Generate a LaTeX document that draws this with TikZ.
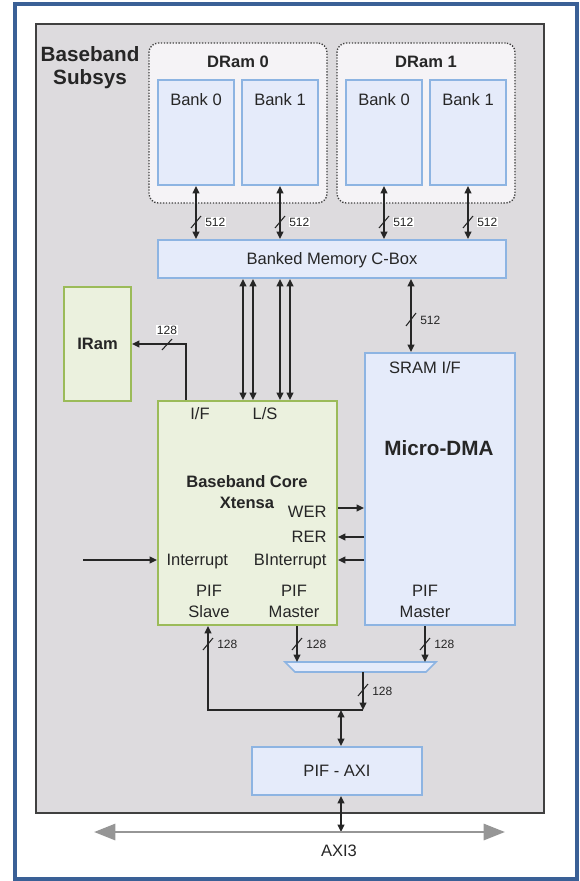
\documentclass[tikz,border=0pt]{standalone}
\usepackage{fontspec}
\setmainfont{Liberation Sans}
\usetikzlibrary{arrows.meta}

\definecolor{frameblue}{RGB}{58,96,150}
\definecolor{subsysgrey}{RGB}{221,219,222}
\definecolor{subsysline}{RGB}{64,64,64}
\definecolor{dramfill}{RGB}{245,243,246}
\definecolor{blueline}{RGB}{141,180,226}
\definecolor{bluefill}{RGB}{229,235,250}
\definecolor{greenline}{RGB}{155,187,89}
\definecolor{greenfill}{RGB}{235,241,222}
\definecolor{ink}{RGB}{38,38,38}
\definecolor{axigrey}{RGB}{150,150,150}

\tikzset{every picture/.style={line width=0.75pt}}

\begin{document}
\begin{tikzpicture}[x=0.75pt,y=0.75pt,yscale=-1,xscale=1,
  >={Triangle[length=5.5pt,width=5pt]},
  txt/.style={font=\fontsize{12.4}{15.75}\selectfont,text=ink,inner sep=0pt,anchor=base,align=center},
  boldtxt/.style={txt,font=\fontsize{12.4}{15.75}\selectfont\bfseries},
  bigtxt/.style={txt,font=\fontsize{15.5}{16.9}\selectfont\bfseries},
  boxtxt/.style={font=\fontsize{12.4}{15}\selectfont,text=ink,text height=8.9pt,text depth=0pt},
  buslbl/.style={font=\fontsize{9}{10}\selectfont,text=ink,inner sep=0.6pt,anchor=base west},
  whitelbl/.style={buslbl,fill=white},
  bluebox/.style={draw=blueline,fill=bluefill,line width=1.5pt,inner sep=0pt},
  greenbox/.style={draw=greenline,fill=greenfill,line width=1.5pt,inner sep=0pt},
  drambox/.style={draw=subsysline,fill=dramfill,line width=1pt,dash pattern=on 1pt off 1.2pt,rounded corners=7pt,inner sep=0pt},
  wire/.style={draw=ink,line width=1.2pt},
  widthmark/.style={draw=ink,line width=0.8pt},
  axibus/.style={draw=axigrey,line width=2.2pt,{Triangle[length=16pt,width=12pt]}-{Triangle[length=16pt,width=12pt]}}
]
\path[use as bounding box] (0,0) rectangle (580,881);

%Frame and subsystem
\draw[frameblue,line width=3pt] (15,4.5) rectangle (577,879);
\draw[draw=subsysline,fill=subsysgrey,line width=1.5pt] (36,24) rectangle (544,813);
\node[bigtxt] (subsyslbl) at (90,84.5) {Baseband\\Subsys};

%DRam groups
\node[drambox,minimum width=133.5pt,minimum height=120pt] (dram0) at (238,123) {};
\node[drambox,minimum width=133.5pt,minimum height=120pt] (dram1) at (426,123) {};
\node[boldtxt] (dram0lbl) at (238,68) {DRam 0};
\node[boldtxt] (dram1lbl) at (426,68) {DRam 1};

%Banks
\node[bluebox,minimum width=57pt,minimum height=78.75pt] (bank00) at (196,132.5) {};
\node[bluebox,minimum width=57pt,minimum height=78.75pt] (bank01) at (280,132.5) {};
\node[bluebox,minimum width=57pt,minimum height=78.75pt] (bank10) at (384,132.5) {};
\node[bluebox,minimum width=57pt,minimum height=78.75pt] (bank11) at (468,132.5) {};
\node[txt] (bank00lbl) at (196,105) {Bank 0};
\node[txt] (bank01lbl) at (280,105) {Bank 1};
\node[txt] (bank10lbl) at (384,105) {Bank 0};
\node[txt] (bank11lbl) at (468,105) {Bank 1};

%Blocks
\node[bluebox,boxtxt,minimum width=261pt,minimum height=28.5pt] (cbox) at (332,259) {Banked Memory C-Box};
\node[greenbox,boxtxt,font=\fontsize{12.4}{15}\selectfont\bfseries,minimum width=50.25pt,minimum height=85.5pt] (iram) at (97.5,344) {IRam};
\node[greenbox,minimum width=134.25pt,minimum height=168pt] (core) at (247.5,513) {};
\node[bluebox,minimum width=112.5pt,minimum height=204pt] (dma) at (440,489) {};
\node[bluebox,boxtxt,minimum width=127.5pt,minimum height=36pt] (pifaxi) at (337,771) {PIF - AXI};

%Core texts
\node[txt] (iflbl) at (200,419) {I/F};
\node[txt] (lslbl) at (265,419) {L/S};
\node[boldtxt] (corelbl) at (247,508) {Baseband Core\\Xtensa};
\node[txt,anchor=base east] (werlbl) at (327,517) {WER};
\node[txt,anchor=base east] (rerlbl) at (327,542) {RER};
\node[txt,anchor=base east] (bintlbl) at (327,565) {BInterrupt};
\node[txt,anchor=base west] (intlbl) at (166,565) {Interrupt};
\node[txt] (slavelbl) at (209,617) {PIF\\Slave};
\node[txt] (cmasterlbl) at (294,617) {PIF\\Master};

%DMA texts
\node[txt] (sramlbl) at (425,373) {SRAM I/F};
\node[bigtxt] (dmalbl) at (439,455) {Micro-DMA};
\node[txt] (dmasterlbl) at (425,617) {PIF\\Master};

%Mux
\draw[bluebox,line width=1.2pt] (285,662) -- (436,662) -- (426,672) -- (295,672) -- cycle;

%Coordinates
\coordinate (lsA) at (243,0);
\coordinate (lsB) at (253,0);
\coordinate (lsC) at (280,0);
\coordinate (lsD) at (290,0);
\coordinate (sramx) at (411,0);
\coordinate (ifx) at (186,0);
\coordinate (wer) at (0,508);
\coordinate (rer) at (0,537);
\coordinate (bint) at (0,560);
\coordinate (intsrc) at (83,560);
\coordinate (slx) at (208,0);
\coordinate (cmx) at (297,0);
\coordinate (dmx) at (425,0);
\coordinate (muxtop) at (0,662);
\coordinate (muxout) at (363,672);
\coordinate (junc) at (363,710);
\coordinate (axix) at (341,0);
\coordinate (axiL) at (94,832);
\coordinate (axiR) at (505,832);

%Connectors
\foreach \b in {bank00,bank01,bank10,bank11}
  \draw[wire,<->] (\b.south) -- (\b.south |- cbox.north);
\foreach \c in {lsA,lsB,lsC,lsD}
  \draw[wire,<->] (\c |- cbox.south) -- (\c |- core.north);
\draw[wire,<->] (sramx |- cbox.south) -- (sramx |- dma.north);
\draw[wire,->] (ifx |- core.north) |- (iram.east);
\draw[wire,->] (core.east |- wer) -- (dma.west |- wer);
\draw[wire,->] (dma.west |- rer) -- (core.east |- rer);
\draw[wire,->] (dma.west |- bint) -- (core.east |- bint);
\draw[wire,->] (intsrc) -- (core.west |- intsrc);
\draw[wire,->] (cmx |- core.south) -- (cmx |- muxtop);
\draw[wire,->] (dmx |- dma.south) -- (dmx |- muxtop);
\draw[wire,->] (muxout) -- (junc);
\draw[wire,->] (junc) -| (slx |- core.south);
\draw[wire,<->] (axix |- junc) -- (axix |- pifaxi.north);
\draw[wire,<->] (axix |- pifaxi.south) -- (axix |- axiL);
\draw[axibus] (axiL) -- (axiR);
\node[txt] (axilbl) at (339,856) {AXI3};

%Bus widths
\foreach \x in {196,280,384,468} {
  \draw[widthmark] (\x-5,228) -- (\x+5,216);
  \node[whitelbl] (w\x) at (\x+8,226) {512};
}
\draw[widthmark] (406,326) -- (416,313);
\node[buslbl] (wsram) at (419,324) {512};
\draw[widthmark] (162,350) -- (172,339);
\node[whitelbl,anchor=base] (wiram) at (167,334) {128};
\foreach \x in {208,297,425} {
  \draw[widthmark] (\x-5,650) -- (\x+5,638);
  \node[buslbl] (w\x) at (\x+8,648) {128};
}
\draw[widthmark] (358,696) -- (368,684);
\node[buslbl] (wmux) at (371,695) {128};

\end{tikzpicture}
\end{document}
